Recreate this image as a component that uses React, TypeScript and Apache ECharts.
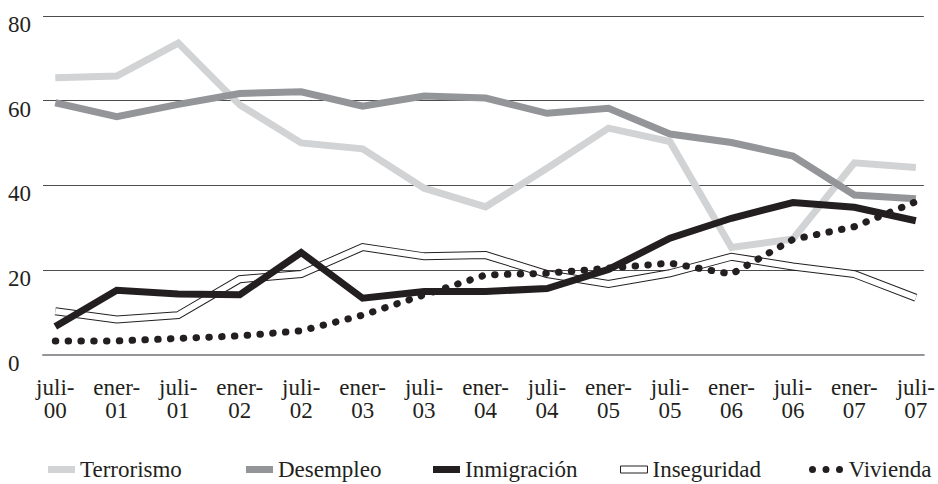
import React, { useEffect, useRef } from "react";
import * as echarts from "echarts";

const categories = [
  "juli-\n00", "ener-\n01", "juli-\n01", "ener-\n02", "juli-\n02", "ener-\n03", "juli-\n03", "ener-\n04",
  "juli-\n04", "ener-\n05", "juli-\n05", "ener-\n06", "juli-\n06", "ener-\n07", "juli-\n07",
];
const terrorismo = [65.4, 65.8, 73.6, 59.0, 50.0, 48.6, 39.3, 34.9, 44.0, 53.5, 50.3, 25.3, 27.3, 45.3, 44.2];
const desempleo = [59.5, 56.2, 59.1, 61.7, 62.1, 58.7, 61.1, 60.6, 57.0, 58.2, 52.1, 50.1, 46.9, 37.7, 36.8];
const inmigracion = [6.6, 15.2, 14.3, 14.1, 24.1, 13.3, 14.9, 14.9, 15.6, 20.1, 27.5, 32.2, 35.9, 34.8, 31.6];
const inseguridad = [10.2, 8.3, 9.3, 17.8, 19.0, 25.4, 23.2, 23.5, 19.0, 16.7, 19.2, 23.1, 20.8, 19.0, 13.4];
const vivienda = [3.2, 3.2, 3.8, 4.4, 5.6, 9.3, 14.1, 18.8, 19.2, 20.4, 21.6, 19.0, 27.2, 30.2, 36.1];
const yTicks = [0, 20, 40, 60, 80];

const FONT = "Liberation Serif";
const INK = "#231f20";

const pts = (arr: number[]) => arr.map((v, i) => [i, v]);

export default function App() {
  const ref = useRef<HTMLDivElement>(null);
  useEffect(() => {
    document.body.style.margin = "0";
    const chart = echarts.init(ref.current!, undefined, { renderer: "svg" });
    const legendText = { fontFamily: FONT, fontSize: 23, lineHeight: 23, color: INK };
    const mkLegend = (left: number, item: any, w = 27, h = 7) => ({
      left,
      top: 453,
      selectedMode: false,
      itemWidth: w,
      itemHeight: h,
      textStyle: legendText,
      data: [item],
    });
    chart.setOption({
      animation: false,
      textStyle: { fontFamily: FONT },
      grid: { left: 43, right: 13, top: 16, bottom: 129.5 },
      legend: [
        mkLegend(43, { name: "Terrorismo", icon: "rect", itemStyle: { color: "#d1d3d4" } }),
        mkLegend(241, { name: "Desempleo", icon: "rect", itemStyle: { color: "#939598" } }),
        mkLegend(428, { name: "Inmigración", icon: "rect", itemStyle: { color: INK } }),
        mkLegend(615, {
          name: "Inseguridad",
          icon: "rect",
          itemStyle: { color: "#ffffff", borderColor: INK, borderWidth: 1 },
        }),
        mkLegend(
          804,
          {
            name: "Vivienda",
            icon:
              "path://M0,3.5a3.5,3.5 0 1,0 7,0a3.5,3.5 0 1,0 -7,0M13.5,3.5a3.5,3.5 0 1,0 7,0a3.5,3.5 0 1,0 -7,0M27,3.5a3.5,3.5 0 1,0 7,0a3.5,3.5 0 1,0 -7,0",
            itemStyle: { color: INK },
          },
          35,
          7
        ),
      ],
      xAxis: {
        type: "value",
        min: -0.2,
        max: 14.13,
        splitLine: { show: false },
        axisTick: { show: false },
        axisLine: { show: true, lineStyle: { color: "#939598", width: 2 } },
        axisLabel: {
          customValues: categories.map((_, i) => i),
          formatter: (v: number) => categories[Math.round(v)],
          fontFamily: FONT,
          fontSize: 23,
          lineHeight: 23,
          color: INK,
          margin: 21,
        },
      },
      yAxis: {
        type: "value",
        min: yTicks[0],
        max: yTicks[yTicks.length - 1],
        interval: 20,
        axisLine: { show: false },
        axisTick: { show: false },
        splitLine: { lineStyle: { color: "#4d4d4d", width: 1 } },
        axisLabel: {
          align: "left",
          margin: 35,
          fontFamily: FONT,
          fontSize: 23,
          lineHeight: 17,
          color: INK,
          verticalAlign: "top",
        },
      },
      series: [
        {
          name: "Terrorismo",
          type: "line",
          symbol: "none",
          silent: true,
          data: pts(terrorismo),
          itemStyle: { color: "#d1d3d4" },
          lineStyle: { color: "#d1d3d4", width: 7, join: "miter" },
        },
        {
          name: "Desempleo",
          type: "line",
          symbol: "none",
          silent: true,
          data: pts(desempleo),
          itemStyle: { color: "#939598" },
          lineStyle: { color: "#939598", width: 7, join: "miter" },
        },
        {
          name: "Inseguridad",
          type: "line",
          symbol: "none",
          silent: true,
          data: pts(inseguridad),
          itemStyle: { color: INK },
          lineStyle: { color: INK, width: 8, join: "miter" },
        },
        {
          name: "Inseguridad-inner",
          type: "line",
          symbol: "none",
          silent: true,
          data: pts(inseguridad),
          itemStyle: { color: "#ffffff" },
          lineStyle: { color: "#ffffff", width: 6, join: "miter" },
        },
        {
          name: "Inmigración",
          type: "line",
          symbol: "none",
          silent: true,
          data: pts(inmigracion),
          itemStyle: { color: INK },
          lineStyle: { color: INK, width: 7, join: "miter" },
        },
        {
          name: "Vivienda",
          type: "line",
          symbol: "none",
          silent: true,
          data: pts(vivienda),
          itemStyle: { color: INK },
          lineStyle: { color: INK, width: 7, type: [0.5, 12.3], cap: "round" },
        },
      ],
    });
    return () => chart.dispose();
  }, []);
  return <div ref={ref} style={{ width: 938, height: 484 }} />;
}
